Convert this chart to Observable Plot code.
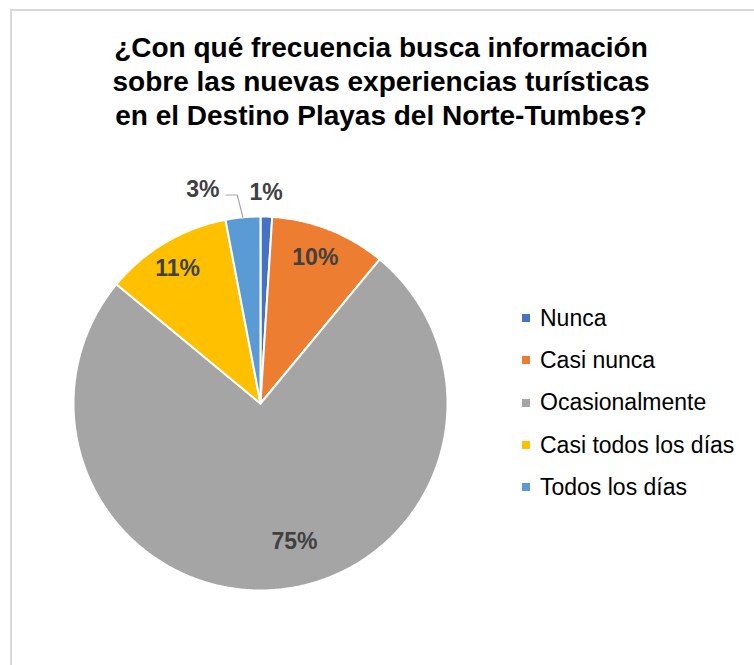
<!DOCTYPE html>
<html>
<head>
<meta charset="utf-8">
<script src="https://cdn.jsdelivr.net/npm/d3@7"></script>
<script src="https://cdn.jsdelivr.net/npm/@observablehq/plot@0.6"></script>
<style>
  html, body { margin: 0; padding: 0; background: #fff; overflow: hidden; }
  body { font-family: "Liberation Sans", Arial, sans-serif; }
  #wrap { position: relative; width: 754px; height: 665px; overflow: hidden; }
  #frame { position: absolute; left: 10px; top: 9px; width: 800px; height: 700px;
           border-left: 2px solid #d9d9d9; border-top: 2px solid #d9d9d9; }
  #chart { position: absolute; left: 0; top: 0; }
  #title { position: absolute; left: 0; top: 31px; width: 762px; text-align: center;
           font-weight: bold; font-size: 28px; line-height: 34px; color: #000; }
  #legend { position: absolute; left: 522px; top: 297px; }
  .row { display: flex; align-items: center; height: 42.3px; font-size: 23px; color: #000; white-space: nowrap; }
  .sw { width: 8px; height: 8px; margin-right: 10px; flex: none; }
</style>
</head>
<body>
<div id="wrap">
  <div id="frame"></div>
  <div id="chart"></div>
  <div id="title"></div>
  <div id="legend"></div>
</div>
<script>
// ---- data ----
const titleLines = [
  "¿Con qué frecuencia busca información",
  "sobre las nuevas experiencias turísticas",
  "en el Destino Playas del Norte-Tumbes?"
];
const categories = ["Nunca", "Casi nunca", "Ocasionalmente", "Casi todos los días", "Todos los días"];
const values = [1, 10, 75, 11, 3];
const labels = ["1%", "10%", "75%", "11%", "3%"];
const colors = ["#4472C4", "#ED7D31", "#A5A5A5", "#FFC000", "#5B9BD5"];

// ---- title & legend ----
document.getElementById("title").innerHTML = titleLines.map(t => `<div>${t}</div>`).join("");
document.getElementById("legend").innerHTML = categories.map((c, i) =>
  `<div class="row"><span class="sw" style="background:${colors[i]}"></span><span>${c}</span></div>`).join("");

// ---- pie geometry (unit circle, angles clockwise from 12 o'clock) ----
const arcs = d3.pie().sort(null).value(d => d)(values);
const slicePts = [];
arcs.forEach((a, i) => {
  const cat = categories[i];
  const n = Math.max(2, Math.ceil((a.endAngle - a.startAngle) / 0.01));
  slicePts.push({cat, x: 0, y: 0});
  for (let k = 0; k <= n; k++) {
    const t = a.startAngle + (a.endAngle - a.startAngle) * k / n;
    slicePts.push({cat, x: Math.sin(t), y: Math.cos(t)});
  }
  slicePts.push({cat, x: 0, y: 0});
});

// label layout
const labelPts = [];
const leader = [];
arcs.forEach((a, i) => {
  const m = (a.startAngle + a.endAngle) / 2;
  const cat = categories[i];
  if (values[i] >= 5) {
    const r = values[i] > 50 ? 0.74 : 0.84;
    labelPts.push({cat, text: labels[i], x: Math.sin(m) * r, y: Math.cos(m) * r,
                   anchor: "middle", dx: values[i] > 50 ? 21 : -2});
  } else if (i === 0) {
    labelPts.push({cat, text: labels[i], x: Math.sin(m) * 1.13, y: Math.cos(m) * 1.13, anchor: "middle", dx: -1});
  } else {
    const ex = Math.sin(m) - 0.03, ey = Math.cos(m) * 1.12;
    leader.push({x: Math.sin(m), y: Math.cos(m)}, {x: ex, y: ey}, {x: ex - 0.06, y: ey});
    labelPts.push({cat, text: labels[i], x: ex - 0.095, y: ey + 0.03, anchor: "end", dx: 0});
  }
});

const font = "Liberation Sans, Arial, sans-serif";
const chart = Plot.plot({
  width: 754,
  height: 665,
  margin: 0,
  style: {background: "transparent", fontFamily: font},
  x: {domain: [-1, 1], range: [73, 447], axis: null},
  y: {domain: [-1, 1], range: [590, 216], axis: null},
  color: {domain: categories, range: colors},
  marks: [
    Plot.line(slicePts, {x: "x", y: "y", z: "cat", fill: "cat", stroke: "white",
                         strokeWidth: 2, strokeLinejoin: "round", curve: "linear"}),
    Plot.line(leader, {x: "x", y: "y", stroke: "#a6a6a6", strokeWidth: 1.2}),
    Plot.text(labelPts.filter(d => d.anchor === "middle" && d.dx === 21), {x: "x", y: "y", text: "text", dx: 21,
      fill: "#404040", fontSize: 23, fontWeight: "bold", fontFamily: font}),
    Plot.text(labelPts.filter(d => d.anchor === "middle" && d.dx === -2), {x: "x", y: "y", text: "text", dx: -3,
      fill: "#404040", fontSize: 23, fontWeight: "bold", fontFamily: font}),
    Plot.text(labelPts.filter(d => d.anchor === "middle" && d.dx === -1), {x: "x", y: "y", text: "text", dx: -1,
      fill: "#404040", fontSize: 23, fontWeight: "bold", fontFamily: font}),
    Plot.text(labelPts.filter(d => d.anchor === "end"), {x: "x", y: "y", text: "text", textAnchor: "end",
      fill: "#404040", fontSize: 23, fontWeight: "bold", fontFamily: font})
  ]
});
document.getElementById("chart").appendChild(chart);
</script>
</body>
</html>
